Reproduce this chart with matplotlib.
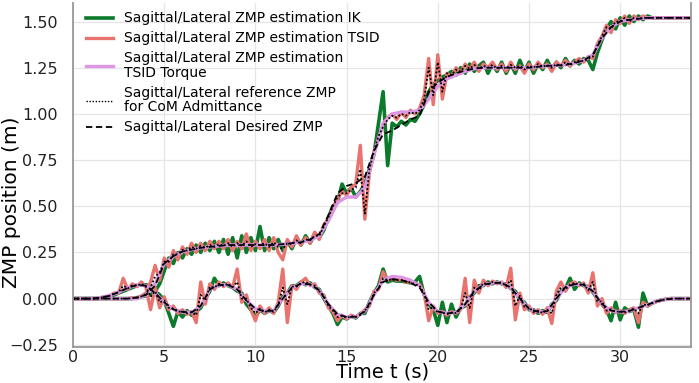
import numpy as np
import matplotlib
matplotlib.use("Agg")
import matplotlib.pyplot as plt
from matplotlib.lines import Line2D

# ---------------- data ----------------
# fine time grid (0.25 s) for the estimated / reference ZMP
t_fine = np.arange(0, 34.001, 0.25)
# coarse time grid (0.5 s) for desired ZMP and TSID torque estimate
t_coarse = np.arange(0, 34.001, 0.5)

sag_desired = [0, 0, 0, 0, 0, 0, 0, 0.005, 0.02, 0.07, 0.19, 0.23, 0.255, 0.265,
               0.275, 0.28, 0.285, 0.29, 0.29, 0.29, 0.29, 0.29, 0.29, 0.295, 0.30,
               0.305, 0.32, 0.35, 0.45, 0.57, 0.61, 0.625, 0.66, 0.80, 0.89, 0.91,
               0.94, 0.97, 0.99, 1.12, 1.17, 1.20, 1.22, 1.235, 1.245, 1.25, 1.25,
               1.25, 1.25, 1.25, 1.25, 1.255, 1.26, 1.262, 1.265, 1.275, 1.29, 1.32,
               1.41, 1.47, 1.50, 1.51, 1.515, 1.52, 1.52, 1.52, 1.52, 1.52, 1.52]

lat_desired = [0, 0, 0, 0.005, 0.015, 0.035, 0.058, 0.074, 0.07, 0.03, -0.02, -0.058,
               -0.072, -0.075, -0.04, 0.05, 0.074, 0.074, 0.05, -0.01, -0.055, -0.068,
               -0.065, 0.0, 0.06, 0.08, 0.078, 0.045, -0.03, -0.085, -0.10, -0.098,
               -0.07, 0.02, 0.09, 0.105, 0.10, 0.085, 0.06, -0.02, -0.07, -0.08,
               -0.075, -0.03, 0.04, 0.075, 0.085, 0.085, 0.06, 0.0, -0.055, -0.072,
               -0.068, 0.0, 0.062, 0.078, 0.075, 0.04, -0.03, -0.065, -0.072, -0.067,
               -0.05, -0.033, -0.015, -0.004, 0, 0, 0]

sag_torque = [0, 0, 0, 0, 0, 0, 0, 0, 0.02, 0.08, 0.19, 0.23, 0.255, 0.265, 0.275,
              0.28, 0.285, 0.29, 0.29, 0.29, 0.29, 0.29, 0.29, 0.295, 0.30, 0.305,
              0.315, 0.34, 0.42, 0.52, 0.55, 0.55, 0.60, 0.78, 0.95, 1.00, 1.01, 1.01,
              1.02, 1.08, 1.15, 1.19, 1.21, 1.23, 1.245, 1.25, 1.25, 1.25, 1.25, 1.25,
              1.25, 1.255, 1.26, 1.262, 1.265, 1.275, 1.29, 1.32, 1.41, 1.47, 1.50,
              1.51, 1.515, 1.52, 1.52, 1.52, 1.52, 1.52, 1.52]

lat_torque = [0, 0, 0, 0.005, 0.015, 0.035, 0.058, 0.074, 0.07, 0.03, -0.02, -0.058,
              -0.072, -0.075, -0.04, 0.05, 0.074, 0.074, 0.05, -0.01, -0.055, -0.068,
              -0.065, 0.0, 0.06, 0.08, 0.078, 0.045, -0.03, -0.085, -0.10, -0.10,
              -0.07, 0.02, 0.10, 0.12, 0.115, 0.10, 0.07, -0.02, -0.07, -0.08,
              -0.075, -0.03, 0.04, 0.075, 0.085, 0.085, 0.06, 0.0, -0.055, -0.072,
              -0.068, 0.0, 0.062, 0.078, 0.075, 0.04, -0.03, -0.065, -0.072, -0.067,
              -0.05, -0.033, -0.015, -0.004, 0, 0, 0]

sag_ik = [0, 0, 0, 0, 0, 0, 0, 0, 0, 0, 0, 0,
          0.0, 0.0, 0.005, 0.01, 0.015, 0.02, 0.04, 0.08, 0.15, 0.22, 0.19, 0.25,
          0.22, 0.27, 0.24, 0.29, 0.25, 0.30, 0.26, 0.31, 0.25, 0.32, 0.24, 0.33,
          0.22, 0.34, 0.25, 0.33, 0.26, 0.39, 0.26, 0.33, 0.27, 0.32, 0.26, 0.31,
          0.27, 0.33, 0.29, 0.34, 0.30, 0.35, 0.33, 0.37, 0.44, 0.50, 0.52, 0.62,
          0.57, 0.60, 0.55, 0.58, 0.62, 0.70, 0.78, 0.95, 1.12, 0.72, 0.95, 0.93,
          0.96, 0.94, 0.97, 0.96, 1.00, 1.05, 1.12, 1.16, 1.18, 1.20, 1.21, 1.23,
          1.21, 1.25, 1.22, 1.27, 1.23, 1.26, 1.28, 1.22, 1.27, 1.23, 1.28, 1.22,
          1.27, 1.22, 1.29, 1.23, 1.28, 1.22, 1.27, 1.24, 1.29, 1.24, 1.28, 1.25,
          1.30, 1.26, 1.29, 1.27, 1.30, 1.29, 1.24, 1.33, 1.40, 1.46, 1.50, 1.46,
          1.52, 1.48, 1.53, 1.50, 1.53, 1.51, 1.53, 1.52, 1.52, 1.52, 1.52, 1.52,
          1.52, 1.52, 1.52, 1.52, 1.52]

sag_tsid = [0, 0, 0, 0, 0, 0, 0, 0, 0, 0, 0, 0,
            0.0, 0.005, 0.0, 0.015, 0.03, 0.09, 0.18, 0.10, 0.22, 0.17, 0.26, 0.21,
            0.28, 0.24, 0.30, 0.25, 0.30, 0.26, 0.31, 0.27, 0.31, 0.27, 0.32, 0.26,
            0.31, 0.27, 0.35, 0.26, 0.31, 0.27, 0.32, 0.26, 0.33, 0.25, 0.21, 0.32,
            0.28, 0.34, 0.29, 0.33, 0.30, 0.36, 0.32, 0.40, 0.43, 0.49, 0.54, 0.58,
            0.56, 0.60, 0.62, 0.83, 0.43, 0.68, 0.79, 0.87, 0.94, 0.98, 1.00, 0.97,
            1.01, 0.98, 1.02, 1.00, 1.03, 1.10, 1.30, 1.05, 1.32, 1.08, 1.22, 1.20,
            1.25, 1.22, 1.27, 1.24, 1.28, 1.23, 1.27, 1.25, 1.28, 1.24, 1.27, 1.23,
            1.28, 1.24, 1.26, 1.22, 1.27, 1.24, 1.28, 1.25, 1.27, 1.23, 1.28, 1.26,
            1.29, 1.26, 1.28, 1.30, 1.28, 1.31, 1.30, 1.38, 1.42, 1.48, 1.44, 1.51,
            1.49, 1.53, 1.49, 1.53, 1.51, 1.53, 1.52, 1.52, 1.52, 1.52, 1.52, 1.52,
            1.52, 1.52, 1.52, 1.52, 1.52]

sag_ref = [0, 0, 0, 0, 0, 0, 0, 0, 0, 0, 0, 0,
           0.0, 0.003, 0.005, 0.012, 0.025, 0.06, 0.12, 0.14, 0.20, 0.20, 0.24, 0.24,
           0.265, 0.26, 0.28, 0.27, 0.285, 0.275, 0.29, 0.28, 0.295, 0.285, 0.30, 0.28,
           0.30, 0.285, 0.31, 0.28, 0.295, 0.29, 0.30, 0.28, 0.305, 0.28, 0.27, 0.30,
           0.295, 0.315, 0.30, 0.32, 0.315, 0.34, 0.34, 0.39, 0.44, 0.50, 0.55, 0.57,
           0.57, 0.59, 0.60, 0.70, 0.46, 0.70, 0.80, 0.88, 0.93, 0.97, 0.99, 0.98,
           1.00, 0.99, 1.01, 1.00, 1.02, 1.08, 1.25, 1.10, 1.28, 1.12, 1.22, 1.21,
           1.24, 1.23, 1.26, 1.245, 1.265, 1.245, 1.26, 1.25, 1.265, 1.245, 1.26, 1.245,
           1.265, 1.25, 1.26, 1.24, 1.26, 1.25, 1.27, 1.255, 1.265, 1.25, 1.27, 1.26,
           1.28, 1.265, 1.28, 1.29, 1.285, 1.30, 1.31, 1.37, 1.42, 1.47, 1.46, 1.50,
           1.50, 1.52, 1.50, 1.52, 1.515, 1.52, 1.52, 1.52, 1.52, 1.52, 1.52, 1.52,
           1.52, 1.52, 1.52, 1.52, 1.52]

lat_ik = [0, 0, 0, 0, 0, 0.0, 0.003, 0.008, 0.012, 0.02, 0.03, 0.04,
          0.05, 0.06, 0.07, 0.075, 0.075, 0.065, 0.04, 0.02, -0.01, -0.08, -0.15, -0.07,
          -0.10, -0.065, -0.09, -0.07, -0.05, 0.0, 0.04, 0.11, 0.07, 0.085, 0.07, 0.06,
          0.04, 0.03, -0.03, -0.06, -0.10, -0.06, -0.08, -0.065, -0.075, -0.04, 0.01, 0.03,
          0.07, 0.07, 0.09, 0.075, 0.085, 0.06, 0.05, 0.0, -0.04, -0.08, -0.14, -0.10,
          -0.11, -0.095, -0.105, -0.08, -0.08, -0.02, 0.03, 0.07, 0.16, 0.09, 0.10, 0.095,
          0.095, 0.09, 0.085, 0.09, 0.12, 0.02, -0.03, -0.06, -0.145, -0.02, -0.13, -0.03,
          -0.10, -0.05, -0.04, 0.01, 0.03, 0.07, 0.07, 0.09, 0.08, 0.09, 0.08, 0.08,
          0.055, 0.04, -0.01, -0.02, -0.06, -0.06, -0.08, -0.065, -0.075, -0.03, -0.01, 0.04,
          0.055, 0.11, 0.05, 0.085, 0.07, 0.065, 0.035, 0.0, -0.03, -0.06, -0.12, -0.02,
          -0.115, -0.05, -0.07, -0.06, -0.155, 0.03, -0.04, -0.025, -0.015, -0.008, -0.004, 0.0,
          0, 0, 0, 0, 0]

lat_tsid = [0, 0, 0, 0, 0, 0.0, 0.005, 0.01, 0.015, 0.03, 0.03, 0.11,
            0.05, 0.08, 0.065, 0.09, 0.06, -0.06, 0.06, -0.05, 0.01, -0.06, -0.04, -0.08,
            -0.06, -0.085, -0.07, -0.13, 0.09, -0.03, 0.08, 0.05, 0.09, 0.065, 0.085, 0.06,
            0.16, -0.02, 0.02, -0.06, -0.12, -0.04, -0.08, -0.05, -0.08, -0.02, 0.16, -0.13,
            0.07, 0.05, 0.09, 0.11, 0.07, 0.08, 0.03, 0.02, -0.05, -0.07, -0.12, -0.09,
            -0.11, -0.09, -0.10, -0.085, -0.06, -0.04, 0.04, 0.05, 0.145, 0.10, 0.11, 0.10,
            0.105, 0.09, 0.09, 0.08, 0.075, 0.03, -0.12, -0.04, -0.08, -0.07, -0.09, -0.07,
            -0.08, -0.06, 0.11, -0.13, 0.10, 0.03, 0.10, 0.07, 0.095, 0.08, 0.09, 0.06,
            0.165, -0.115, 0.03, -0.06, -0.04, -0.08, -0.06, -0.085, -0.05, -0.135, 0.04, 0.09,
            0.04, 0.08, 0.09, 0.07, 0.085, 0.03, 0.14, -0.04, 0.0, -0.08, -0.05, -0.075,
            -0.065, -0.08, -0.06, -0.05, -0.13, -0.02, -0.04, -0.025, -0.015, -0.008, -0.003, 0.0,
            0, 0, 0, 0, 0]

lat_ref = [0, 0, 0, 0, 0, 0.002, 0.005, 0.01, 0.015, 0.027, 0.035, 0.07,
           0.055, 0.072, 0.07, 0.08, 0.065, 0.01, 0.04, -0.02, -0.01, -0.05, -0.055, -0.072,
           -0.068, -0.08, -0.073, -0.09, 0.02, -0.01, 0.065, 0.06, 0.08, 0.07, 0.08, 0.062,
           0.09, 0.0, 0.0, -0.05, -0.08, -0.055, -0.075, -0.06, -0.072, -0.035, 0.06, -0.03,
           0.065, 0.065, 0.085, 0.09, 0.075, 0.07, 0.04, 0.015, -0.04, -0.065, -0.10, -0.092,
           -0.105, -0.095, -0.10, -0.088, -0.065, -0.035, 0.03, 0.055, 0.11, 0.10, 0.105, 0.10,
           0.10, 0.092, 0.088, 0.078, 0.07, 0.028, -0.06, -0.045, -0.075, -0.075, -0.085, -0.075,
           -0.078, -0.058, 0.03, -0.05, 0.06, 0.045, 0.085, 0.077, 0.09, 0.085, 0.088, 0.068,
           0.10, -0.04, 0.015, -0.045, -0.048, -0.072, -0.066, -0.078, -0.06, -0.08, 0.02, 0.06,
           0.05, 0.076, 0.085, 0.074, 0.08, 0.045, 0.09, -0.015, -0.015, -0.065, -0.058, -0.072,
           -0.068, -0.075, -0.064, -0.054, -0.08, -0.032, -0.036, -0.024, -0.015, -0.008, -0.004, 0.0,
           0, 0, 0, 0, 0]

labels = ["Sagittal/Lateral ZMP estimation IK",
          "Sagittal/Lateral ZMP estimation TSID",
          "Sagittal/Lateral ZMP estimation\nTSID Torque",
          "Sagittal/Lateral reference ZMP\nfor CoM Admittance",
          "Sagittal/Lateral Desired ZMP"]

# ---------------- plot ----------------
c_ik = "#0b7a2b"
c_tsid = "#e8736f"
c_tq = "#dc96e3"

fig = plt.figure(figsize=(6.99, 3.83), dpi=100)
ax = fig.add_axes([0.1045, 0.094, 0.8845, 0.898])

for y in (sag_ik, lat_ik):
    ax.plot(t_fine, y, color=c_ik, lw=2.6)
for y in (sag_tsid, lat_tsid):
    ax.plot(t_fine, y, color=c_tsid, lw=2.4)
for y in (sag_torque, lat_torque):
    ax.plot(t_coarse, y, color=c_tq, lw=2.4)
for y in (sag_ref, lat_ref):
    ax.plot(t_fine, y, color="black", lw=1.3, ls=(0, (1, 1.2)))
for y in (sag_desired, lat_desired):
    ax.plot(t_coarse, y, color="black", lw=1.3, ls=(0, (3.5, 2)))

# legend proxies
handles = [Line2D([], [], color=c_ik, lw=2.6),
           Line2D([], [], color=c_tsid, lw=2.4),
           Line2D([], [], color=c_tq, lw=2.4),
           Line2D([], [], color="black", lw=1.0, ls=(0, (1, 1.2))),
           Line2D([], [], color="black", lw=1.3, ls=(0, (3.5, 2)))]
leg = ax.legend(handles, labels, loc="upper left", frameon=False, fontsize=10,
                handlelength=1.9, handletextpad=0.8, labelspacing=0.43,
                borderaxespad=0.2, bbox_to_anchor=(0.008, 1.0))
for txt in leg.get_texts():
    txt.set_linespacing(1.05)

ax.set_xlim(0, 33.9)
ax.set_ylim(-0.262, 1.60)
ax.set_xticks([0, 5, 10, 15, 20, 25, 30])
ax.set_yticks([-0.25, 0.0, 0.25, 0.5, 0.75, 1.0, 1.25, 1.5])
ax.set_yticklabels(["\u22120.25", "0.00", "0.25", "0.50", "0.75", "1.00", "1.25", "1.50"])
ax.grid(True, color="#e6e6e6", lw=0.9)
ax.set_axisbelow(True)
for s in ("left", "bottom", "right"):
    ax.spines[s].set_color("#999999")
    ax.spines[s].set_linewidth(1.3)
ax.spines["top"].set_visible(False)
ax.tick_params(labelsize=11.5, length=0, colors="#222222")
ax.tick_params(axis="y", pad=11)
ax.tick_params(axis="x", pad=2)
ax.set_xlabel("Time t (s)", fontsize=14)
ax.set_ylabel("ZMP position (m)", fontsize=14.5)
ax.xaxis.set_label_coords(0.5, -0.046)
ax.yaxis.set_label_coords(-0.1, 0.42)
ax.xaxis.label.set_va("top")
ax.yaxis.label.set_va("center")

fig.savefig("out.png", dpi=100)
